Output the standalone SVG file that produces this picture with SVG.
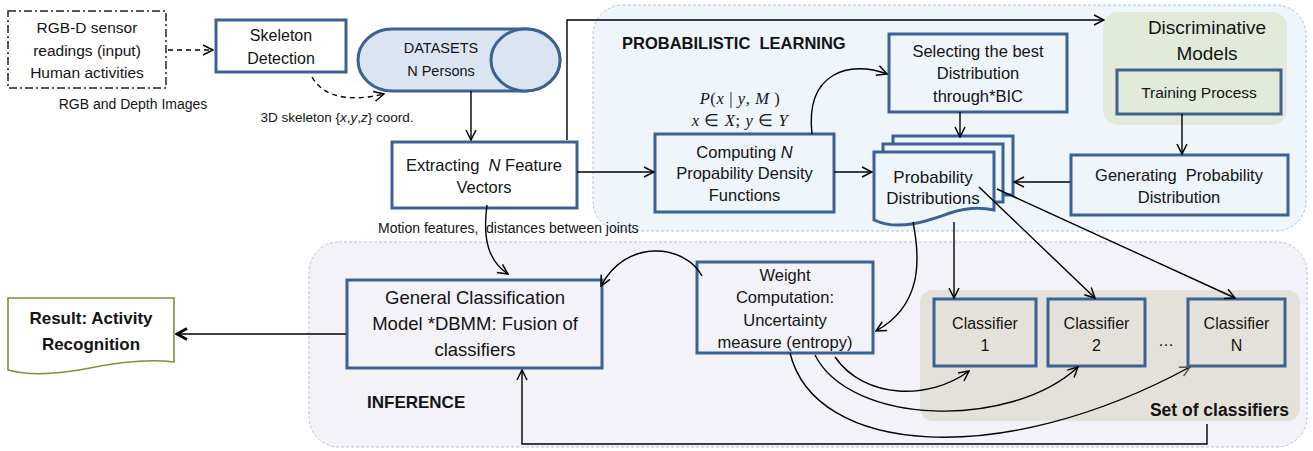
<svg xmlns="http://www.w3.org/2000/svg" width="1313" height="451" viewBox="0 0 1313 451">
<style>
text{font-family:"Liberation Sans",Arial,sans-serif;fill:#141414}
.c{text-anchor:middle}
.b{font-weight:bold}
.node{stroke:#3c6193;stroke-width:3}
.region{stroke:#a9c4e4;stroke-width:1;stroke-dasharray:3 2}
.conn{fill:none;stroke:#000;stroke-width:1.4}
.math{font-family:"Liberation Serif","Times New Roman",serif;font-style:italic}
</style>
<defs>
<marker id="ah" viewBox="0 0 12 12" refX="11" refY="6" markerWidth="12" markerHeight="12" markerUnits="userSpaceOnUse" orient="auto">
<path d="M1,1 L11,6 L1,11" fill="none" stroke="#000" stroke-width="1.5"/>
</marker>
<marker id="ahg" viewBox="0 0 12 12" refX="11" refY="6" markerWidth="12" markerHeight="12" markerUnits="userSpaceOnUse" orient="auto">
<path d="M1,1 L11,6 L1,11" fill="none" stroke="#555" stroke-width="1.5"/>
</marker>
<marker id="ahb" viewBox="0 0 14 14" refX="12" refY="7" markerWidth="14" markerHeight="14" markerUnits="userSpaceOnUse" orient="auto">
<path d="M2,1.5 L12,7 L2,12.5" fill="none" stroke="#000" stroke-width="2.6"/>
</marker>
</defs>

<g id="regions">
<rect id="probabilistic-learning" class="region" x="593" y="5" width="713" height="226" rx="30" fill="#eef5fb"/>
<rect id="inference" class="region" x="309" y="242" width="998" height="205" rx="30" fill="#f3f2f8"/>
<rect id="discriminative-models" x="1103" y="12" width="184" height="113" rx="15" fill="#e2ebda"/>
<rect id="set-of-classifiers" x="920" y="290" width="380" height="131" rx="13" fill="#e4e1da"/>
<text class="b" x="622" y="49" font-size="16.5" xml:space="preserve">PROBABILISTIC  LEARNING</text>
<text class="b" x="367" y="408" font-size="17">INFERENCE</text>
<text class="c" x="1207" y="34" font-size="19">Discriminative</text>
<text class="c" x="1207" y="60" font-size="19">Models</text>
<text class="b" x="1289" y="416" font-size="17.5" text-anchor="end">Set of classifiers</text>
</g>

<g id="input">
<rect x="8" y="11" width="158" height="77" fill="#fff" stroke="#222" stroke-width="1.5" stroke-dasharray="8 3 2 3"/>
<text class="c" x="87" y="32.5" font-size="15.5">RGB-D sensor</text>
<text class="c" x="87" y="55.5" font-size="15.5">readings (input)</text>
<text class="c" x="87" y="77.5" font-size="15.5">Human activities</text>
</g>

<g id="skeleton-detection">
<rect class="node" x="216" y="20" width="130" height="52" fill="#fff"/>
<text class="c" x="281" y="41" font-size="16">Skeleton</text>
<text class="c" x="281" y="64" font-size="16">Detection</text>
</g>

<g id="datasets">
<path class="node" d="M392,29 H525.5 A34.5,31 0 0 1 525.5,91 H392 A34,31 0 0 1 392,29 Z" fill="#dbe5f1"/>
<ellipse class="node" cx="525.5" cy="60" rx="34.5" ry="31" fill="#dbe5f1"/>
<text class="c" x="441" y="53" font-size="14.5">DATASETS</text>
<text class="c" x="441" y="76" font-size="14.5">N Persons</text>
</g>

<g id="extracting">
<rect class="node" x="392" y="142" width="185" height="66" fill="#fff"/>
<text class="c" x="484" y="171" font-size="16.5" xml:space="preserve">Extracting  <tspan font-style="italic">N</tspan> Feature</text>
<text class="c" x="484" y="193" font-size="16.5">Vectors</text>
</g>

<g id="formula">
<text class="c math" x="740" y="104" font-size="16.5" letter-spacing="0.6" xml:space="preserve">P<tspan font-style="normal">(</tspan>x <tspan font-style="normal">|</tspan> y<tspan font-style="normal">,</tspan> M <tspan font-style="normal">)</tspan></text>
<text class="c math" x="740" y="126" font-size="16.5" letter-spacing="0.6" xml:space="preserve">x <tspan font-style="normal">∈</tspan> X<tspan font-style="normal">;</tspan> y <tspan font-style="normal">∈</tspan> Y</text>
</g>

<g id="computing">
<rect class="node" x="655" y="134" width="179" height="78" fill="#eef5fb"/>
<text class="c" x="744.5" y="158" font-size="16.5">Computing <tspan font-style="italic">N</tspan></text>
<text class="c" x="744.5" y="179" font-size="16.5">Propability Density</text>
<text class="c" x="744.5" y="201" font-size="16.5">Functions</text>
</g>

<g id="selecting">
<rect class="node" x="889" y="34" width="178" height="78" fill="#eef5fb"/>
<text class="c" x="978" y="57" font-size="16.5">Selecting the best</text>
<text class="c" x="978" y="79" font-size="16.5">Distribution</text>
<text class="c" x="978" y="102" font-size="16.5">through*BIC</text>
</g>

<g id="probability-distributions">
<rect class="node" x="893" y="136" width="120" height="59" fill="#eef5fb"/>
<rect class="node" x="883" y="144" width="120" height="58" fill="#eef5fb"/>
<path class="node" d="M874,152 H994 V210 C980,207 965,208 950,213 C930,220 900,232 874,220 Z" fill="#eef5fb"/>
<text class="c" x="933" y="183" font-size="17">Probability</text>
<text class="c" x="933" y="204" font-size="17">Distributions</text>
</g>

<g id="training-process">
<rect class="node" x="1117" y="70" width="164" height="44" fill="#e2ebda"/>
<text class="c" x="1199" y="97.5" font-size="15.5">Training Process</text>
</g>

<g id="generating">
<rect class="node" x="1071" y="155" width="217" height="60" fill="#eef5fb"/>
<text class="c" x="1179" y="181" font-size="16.5" xml:space="preserve">Generating  Probability</text>
<text class="c" x="1179" y="203" font-size="16.5">Distribution</text>
</g>

<g id="general-classification">
<rect class="node" x="347" y="280" width="255" height="88" fill="#f3f2f8"/>
<text class="c" x="475" y="304" font-size="18.5">General Classification</text>
<text class="c" x="475" y="330" font-size="18.5">Model *DBMM: Fusion of</text>
<text class="c" x="475" y="356" font-size="18.5">classifiers</text>
</g>

<g id="weight-computation">
<rect class="node" x="697" y="262" width="176" height="91" fill="#f3f2f8"/>
<text class="c" x="785" y="280.5" font-size="16.5">Weight</text>
<text class="c" x="785" y="303" font-size="16.5">Computation:</text>
<text class="c" x="785" y="325.5" font-size="16.5">Uncertainty</text>
<text class="c" x="785" y="347.5" font-size="16.5">measure (entropy)</text>
</g>

<g id="classifier-1">
<rect class="node" x="934" y="299" width="102" height="67" fill="#e4e1da"/>
<text class="c" x="985" y="329" font-size="16">Classifier</text>
<text class="c" x="985" y="351" font-size="16">1</text>
</g>
<g id="classifier-2">
<rect class="node" x="1048" y="299" width="97" height="67" fill="#e4e1da"/>
<text class="c" x="1096.5" y="329" font-size="16">Classifier</text>
<text class="c" x="1096.5" y="351" font-size="16">2</text>
</g>
<text class="c" x="1166" y="346" font-size="16">…</text>
<g id="classifier-n">
<rect class="node" x="1188" y="299" width="97" height="67" fill="#e4e1da"/>
<text class="c" x="1236.5" y="329" font-size="16">Classifier</text>
<text class="c" x="1236.5" y="351" font-size="16">N</text>
</g>

<g id="result">
<path d="M8,298 H174 V362 C150,359 120,362 90,368 C60,374 30,376 8,370 Z" fill="#fff" stroke="#76923c" stroke-width="1.6"/>
<text class="c b" x="91" y="324" font-size="17">Result: Activity</text>
<text class="c b" x="91" y="350" font-size="17">Recognition</text>
</g>

<g id="labels">
<text class="c" x="133" y="109" font-size="14">RGB and Depth Images</text>
<text class="c" x="337" y="122" font-size="13.5">3D skeleton {<tspan font-style="italic">x</tspan>,<tspan font-style="italic">y</tspan>,<tspan font-style="italic">z</tspan>} coord.</text>
<text x="378" y="233" font-size="14">Motion features,</text>
<text x="486" y="233" font-size="14">distances between joints</text>
</g>

<g id="connectors">
<path class="conn" d="M168,50 H213" stroke-dasharray="5 4" marker-end="url(#ah)"/>
<path class="conn" d="M312,77 C325,100 355,101 384,94" stroke-dasharray="5 4" marker-end="url(#ah)"/>
<path class="conn" d="M471,91 V140" marker-end="url(#ah)"/>
<path class="conn" d="M567,140 V20 H1104" marker-end="url(#ah)"/>
<path class="conn" d="M577,172 H654" marker-end="url(#ah)"/>
<path class="conn" d="M812,134 C805,72 850,60 887,74" marker-end="url(#ah)"/>
<path class="conn" d="M834,172 H872" marker-end="url(#ah)"/>
<path class="conn" d="M960,112 V137" marker-end="url(#ah)"/>
<path class="conn" d="M1182,114 V154" marker-end="url(#ah)"/>
<path class="conn" d="M1070,182 H1014" marker-end="url(#ah)"/>
<path class="conn" d="M954,222 V298" marker-end="url(#ah)"/>
<path class="conn" d="M979,187 L1095,298" marker-end="url(#ah)"/>
<path class="conn" d="M997,189 L1235,298" marker-end="url(#ah)"/>
<path class="conn" d="M913,222 C921,262 921,306 876,331" marker-end="url(#ah)"/>
<path class="conn" d="M702,276 C685,244 626,238 601,286" marker-end="url(#ah)"/>
<path class="conn" d="M487,205 C482,242 490,262 508,274" marker-end="url(#ah)"/>
<path class="conn" d="M1207,424 V444 H522 V370" marker-end="url(#ah)"/>
<path class="conn" d="M346,334 H177" stroke-width="3" marker-end="url(#ahb)"/>
<path class="conn" d="M835,357 C865,400 930,400 969,371" marker-end="url(#ah)"/>
<path class="conn" d="M815,355 C850,425 1010,430 1078,367" marker-end="url(#ah)"/>
<path class="conn" d="M790,353 C815,455 1000,470 1190,367" stroke="#333" marker-end="url(#ahg)"/>
</g>
</svg>
